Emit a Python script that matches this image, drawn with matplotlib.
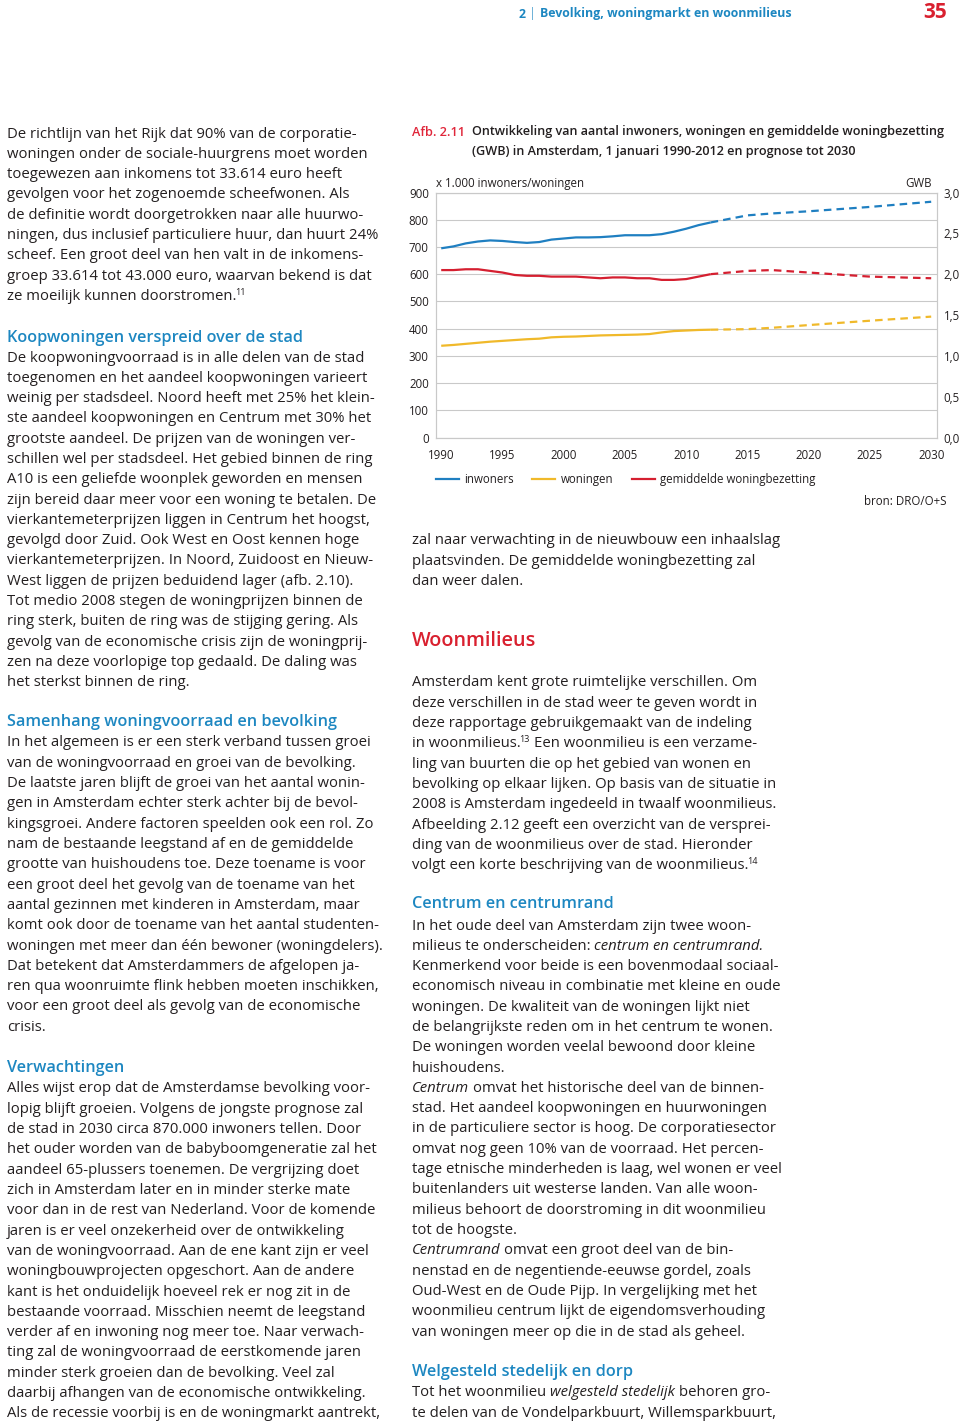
import re
import matplotlib
matplotlib.use("Agg")
import matplotlib.pyplot as plt
from matplotlib.lines import Line2D

W, H = 960, 1424

# ---- chart data (x 1.000 inwoners/woningen, GWB) ----
years_hist = list(range(1990, 2013))
inwoners_hist = [695, 702, 713, 720, 724, 722, 718, 715, 718, 727, 731, 735,
                 735, 736, 739, 743, 743, 743, 747, 756, 767, 780, 790]
woningen_hist = [337, 340, 344, 348, 352, 355, 358, 361, 363, 368, 370, 371,
                 373, 375, 376, 377, 378, 380, 386, 391, 393, 395, 396]
gwb_hist = [2.05, 2.05, 2.06, 2.06, 2.04, 2.02, 1.99, 1.98, 1.98, 1.97, 1.97, 1.97,
            1.96, 1.95, 1.96, 1.96, 1.95, 1.95, 1.93, 1.93, 1.94, 1.97, 2.00]
years_prog = [2012, 2015, 2017, 2020, 2025, 2030]
inwoners_prog = [790, 816, 823, 831, 847, 866]
woningen_prog = [396, 398, 403, 413, 429, 444]
gwb_prog = [2.00, 2.04, 2.05, 2.02, 1.97, 1.95]

xticks = [1990, 1995, 2000, 2005, 2010, 2015, 2020, 2025, 2030]
left_ticks = [0, 100, 200, 300, 400, 500, 600, 700, 800, 900]
right_ticks = [0.0, 0.5, 1.0, 1.5, 2.0, 2.5, 3.0]
right_labels = ["0,0", "0,5", "1,0", "1,5", "2,0", "2,5", "3,0"]
legend_labels = ["inwoners", "woningen", "gemiddelde woningbezetting"]

# ---- page text ----
header_title = "Bevolking, woningmarkt en woonmilieus"
page_no = "35"
caption = ["Ontwikkeling van aantal inwoners, woningen en gemiddelde woningbezetting",
           "(GWB) in Amsterdam, 1 januari 1990-2012 en prognose tot 2030"]

left_col = [
    ("p", 133, [
        "De richtlijn van het Rijk dat 90% van de corporatie-",
        "woningen onder de sociale-huurgrens moet worden",
        "toegewezen aan inkomens tot 33.614 euro heeft",
        "gevolgen voor het zogenoemde scheefwonen. Als",
        "de definitie wordt doorgetrokken naar alle huurwo-",
        "ningen, dus inclusief particuliere huur, dan huurt 24%",
        "scheef. Een groot deel van hen valt in de inkomens-",
        "groep 33.614 tot 43.000 euro, waarvan bekend is dat",
        "ze moeilijk kunnen doorstromen.^11"]),
    ("h", 337, ["Koopwoningen verspreid over de stad"]),
    ("p", 357, [
        "De koopwoningvoorraad is in alle delen van de stad",
        "toegenomen en het aandeel koopwoningen varieert",
        "weinig per stadsdeel. Noord heeft met 25% het klein-",
        "ste aandeel koopwoningen en Centrum met 30% het",
        "grootste aandeel. De prijzen van de woningen ver-",
        "schillen wel per stadsdeel. Het gebied binnen de ring",
        "A10 is een geliefde woonplek geworden en mensen",
        "zijn bereid daar meer voor een woning te betalen. De",
        "vierkantemeterprijzen liggen in Centrum het hoogst,",
        "gevolgd door Zuid. Ook West en Oost kennen hoge",
        "vierkantemeterprijzen. In Noord, Zuidoost en Nieuw-",
        "West liggen de prijzen beduidend lager (afb. 2.10).",
        "Tot medio 2008 stegen de woningprijzen binnen de",
        "ring sterk, buiten de ring was de stijging gering. Als",
        "gevolg van de economische crisis zijn de woningprij-",
        "zen na deze voorlopige top gedaald. De daling was",
        "het sterkst binnen de ring."]),
    ("h", 722, ["Samenhang woningvoorraad en bevolking"]),
    ("p", 742, [
        "In het algemeen is er een sterk verband tussen groei",
        "van de woningvoorraad en groei van de bevolking.",
        "De laatste jaren blijft de groei van het aantal wonin-",
        "gen in Amsterdam echter sterk achter bij de bevol-",
        "kingsgroei. Andere factoren speelden ook een rol. Zo",
        "nam de bestaande leegstand af en de gemiddelde",
        "grootte van huishoudens toe. Deze toename is voor",
        "een groot deel het gevolg van de toename van het",
        "aantal gezinnen met kinderen in Amsterdam, maar",
        "komt ook door de toename van het aantal studenten-",
        "woningen met meer dan één bewoner (woningdelers).",
        "Dat betekent dat Amsterdammers de afgelopen ja-",
        "ren qua woonruimte flink hebben moeten inschikken,",
        "voor een groot deel als gevolg van de economische",
        "crisis."]),
    ("h", 1067, ["Verwachtingen"]),
    ("p", 1088, [
        "Alles wijst erop dat de Amsterdamse bevolking voor-",
        "lopig blijft groeien. Volgens de jongste prognose zal",
        "de stad in 2030 circa 870.000 inwoners tellen. Door",
        "het ouder worden van de babyboomgeneratie zal het",
        "aandeel 65-plussers toenemen. De vergrijzing doet",
        "zich in Amsterdam later en in minder sterke mate",
        "voor dan in de rest van Nederland. Voor de komende",
        "jaren is er veel onzekerheid over de ontwikkeling",
        "van de woningvoorraad. Aan de ene kant zijn er veel",
        "woningbouwprojecten opgeschort. Aan de andere",
        "kant is het onduidelijk hoeveel rek er nog zit in de",
        "bestaande voorraad. Misschien neemt de leegstand",
        "verder af en inwoning nog meer toe. Naar verwach-",
        "ting zal de woningvoorraad de eerstkomende jaren",
        "minder sterk groeien dan de bevolking. Veel zal",
        "daarbij afhangen van de economische ontwikkeling.",
        "Als de recessie voorbij is en de woningmarkt aantrekt,"]),
]

right_col = [
    ("p", 540, [
        "zal naar verwachting in de nieuwbouw een inhaalslag",
        "plaatsvinden. De gemiddelde woningbezetting zal",
        "dan weer dalen."]),
    ("H", 640, ["Woonmilieus"]),
    ("p", 682, [
        "Amsterdam kent grote ruimtelijke verschillen. Om",
        "deze verschillen in de stad weer te geven wordt in",
        "deze rapportage gebruikgemaakt van de indeling",
        "in woonmilieus.^13 Een woonmilieu is een verzame-",
        "ling van buurten die op het gebied van wonen en",
        "bevolking op elkaar lijken. Op basis van de situatie in",
        "2008 is Amsterdam ingedeeld in twaalf woonmilieus.",
        "Afbeelding 2.12 geeft een overzicht van de versprei-",
        "ding van de woonmilieus over de stad. Hieronder",
        "volgt een korte beschrijving van de woonmilieus.^14"]),
    ("h", 904, ["Centrum en centrumrand"]),
    ("p", 925, [
        "In het oude deel van Amsterdam zijn twee woon-",
        "milieus te onderscheiden: _centrum en centrumrand._",
        "Kenmerkend voor beide is een bovenmodaal sociaal-",
        "economisch niveau in combinatie met kleine en oude",
        "woningen. De kwaliteit van de woningen lijkt niet",
        "de belangrijkste reden om in het centrum te wonen.",
        "De woningen worden veelal bewoond door kleine",
        "huishoudens.",
        "_Centrum_ omvat het historische deel van de binnen-",
        "stad. Het aandeel koopwoningen en huurwoningen",
        "in de particuliere sector is hoog. De corporatiesector",
        "omvat nog geen 10% van de voorraad. Het percen-",
        "tage etnische minderheden is laag, wel wonen er veel",
        "buitenlanders uit westerse landen. Van alle woon-",
        "milieus behoort de doorstroming in dit woonmilieu",
        "tot de hoogste.",
        "_Centrumrand_ omvat een groot deel van de bin-",
        "nenstad en de negentiende-eeuwse gordel, zoals",
        "Oud-West en de Oude Pijp. In vergelijking met het",
        "woonmilieu centrum lijkt de eigendomsverhouding",
        "van woningen meer op die in de stad als geheel."]),
    ("h", 1371, ["Welgesteld stedelijk en dorp"]),
    ("p", 1392, [
        "Tot het woonmilieu _welgesteld stedelijk_ behoren gro-",
        "te delen van de Vondelparkbuurt, Willemsparkbuurt,"]),
]

# ---- styles ----
FONT = "Open Sans"
TXT = "#231f20"
HEAD_BLUE = "#1d87c1"
RED_HEAD = "#d9202f"
BLUE = "#1f7fc1"
YELLOW = "#f0b92a"
RED = "#d51f30"
GRID = "#c9c9c9"
BODY_SIZE = 10.75
LINE_H = 20.3

fig = plt.figure(figsize=(W / 100, H / 100), dpi=100)
renderer = fig.canvas.get_renderer()


def fx(x):
    return x / W


def fy(y):
    return 1 - y / H


def text_width(s, **kw):
    t = fig.text(0, 0, s, **kw)
    w = t.get_window_extent(renderer=renderer).width
    t.remove()
    return w


def draw_runs(x, y, runs):
    # y is the visual middle of the lowercase letters; draw on the baseline
    base = y + 4.5
    for s, kw in runs:
        kw = dict(kw)
        dy = kw.pop("dy", 0)
        dx = kw.pop("dx", 0)
        sp = text_width("x x", **kw) - text_width("xx", **kw)
        lead = len(s) - len(s.lstrip(" "))
        trail = len(s) - len(s.rstrip(" "))
        core = s.strip(" ")
        x += lead * sp + dx
        if core:
            t = fig.text(fx(x), fy(base - dy), core, va="baseline", ha="left", **kw)
            x += t.get_window_extent(renderer=renderer).width
        x += trail * sp
    return x


body_kw = dict(family=FONT, fontsize=BODY_SIZE, color=TXT)


def parse_line(line):
    runs = []
    italic = False
    for tok in re.split(r"(_|\^\d+)", line):
        if tok == "_":
            italic = not italic
        elif tok.startswith("^"):
            runs.append((tok[1:], dict(family=FONT, fontsize=6.5, color=TXT, dy=5, dx=-1.5)))
        elif tok:
            kw = dict(body_kw)
            if italic:
                kw["style"] = "italic"
            runs.append((tok, kw))
    return runs


def draw_column(x, blocks):
    for kind, y0, lines in blocks:
        for i, line in enumerate(lines):
            y = y0 + i * LINE_H
            if kind == "p":
                draw_runs(x, y, parse_line(line))
            elif kind == "h":
                draw_runs(x, y, [(line, dict(family=FONT, fontsize=11.7, color=HEAD_BLUE,
                                             weight="semibold"))])
            else:
                draw_runs(x, y + 1, [(line, dict(family=FONT, fontsize=14.2, color=RED_HEAD,
                                                 weight="semibold"))])


draw_column(7, left_col)
draw_column(412, right_col)

# ---- page header ----
draw_runs(519, 13, [("2 ", dict(family=FONT, fontsize=8.9, color=HEAD_BLUE, weight="bold")),
                    ("| ", dict(family=FONT, fontsize=9.5, color=HEAD_BLUE, weight="light")),
                    (header_title, dict(family=FONT, fontsize=8.9, color=HEAD_BLUE, weight="bold"))])
fig.text(fx(947), fy(18), page_no, family=FONT, fontsize=15, color=RED_HEAD,
         weight="bold", ha="right", va="baseline")

# ---- figure caption ----
cap_kw = dict(family=FONT, fontsize=9.1, color=TXT, weight="semibold")
draw_runs(412, 131, [("Afb. 2.11", dict(cap_kw, color="#e0263a"))])
draw_runs(472, 131, [(caption[0], cap_kw)])
draw_runs(472, 151, [(caption[1], cap_kw)])

# ---- chart ----
ax = fig.add_axes([fx(435.7), fy(437.5), 501 / W, 245 / H])
ax.set_xlim(1989.55, 2030.45)
ax.set_ylim(0, 900)
dash = (0, (3.4, 2.3))
ax.plot(years_hist, inwoners_hist, color=BLUE, lw=1.6, solid_capstyle="butt")
ax.plot(years_prog, inwoners_prog, color=BLUE, lw=1.6, ls=dash)
ax.plot(years_hist, woningen_hist, color=YELLOW, lw=1.6, solid_capstyle="butt")
ax.plot(years_prog, woningen_prog, color=YELLOW, lw=1.6, ls=dash)

ax.set_yticks(left_ticks)
ax.set_xticks(xticks)
ax.set_xticklabels([str(v) for v in xticks])
ax.grid(axis="y", color=GRID, lw=0.8)
ax.set_axisbelow(True)
ax.tick_params(axis="both", length=0, labelsize=8.3, labelcolor=TXT)
ax.tick_params(axis="x", pad=8)
ax.tick_params(axis="y", pad=5)
for lab in ax.get_xticklabels() + ax.get_yticklabels():
    lab.set_family(FONT)
for sp in ax.spines.values():
    sp.set_color(GRID)
    sp.set_linewidth(0.8)

ax2 = ax.twinx()
ax2.set_ylim(0, 3)
ax2.plot(years_hist, gwb_hist, color=RED, lw=1.6, solid_capstyle="butt")
ax2.plot(years_prog, gwb_prog, color=RED, lw=1.6, ls=dash)
ax2.set_yticks(right_ticks)
ax2.set_yticklabels(right_labels)
ax2.tick_params(axis="y", length=0, pad=5, labelsize=8.3, labelcolor=TXT)
for lab in ax2.get_yticklabels():
    lab.set_family(FONT)
for sp in ax2.spines.values():
    sp.set_color(GRID)
    sp.set_linewidth(0.8)

small_kw = dict(family=FONT, fontsize=8.3, color=TXT)
fig.text(fx(436), fy(187), "x 1.000 inwoners/woningen", va="baseline", ha="left", **small_kw)
fig.text(fx(932), fy(187), "GWB", va="baseline", ha="right", **small_kw)

handles = [Line2D([], [], color=c, lw=1.6) for c in (BLUE, YELLOW, RED)]
fig.legend(handles, legend_labels, loc="center left", bbox_to_anchor=(fx(436), fy(480)),
           ncol=3, frameon=False, borderpad=0, borderaxespad=0, handlelength=2.0,
           handletextpad=0.45, columnspacing=1.6, prop=dict(family=FONT, size=8.3),
           labelcolor=TXT)
fig.text(fx(947), fy(505), "bron: DRO/O+S", va="baseline", ha="right", **small_kw)

fig.savefig("out.png", dpi=100)
